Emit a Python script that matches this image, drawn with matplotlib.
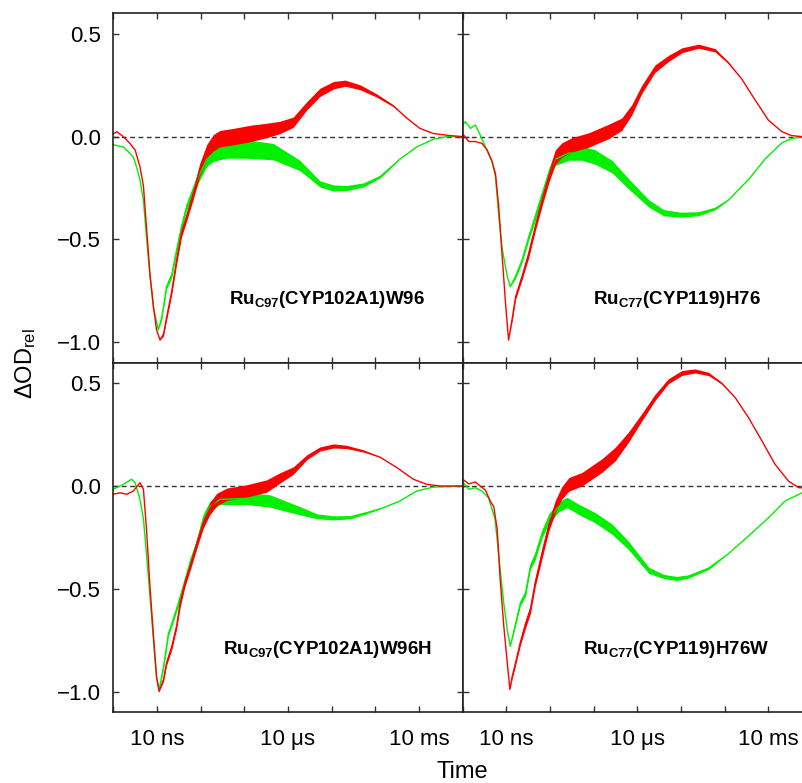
import numpy as np
import matplotlib
matplotlib.use("Agg")
import matplotlib.pyplot as plt
from matplotlib.ticker import FixedLocator, FixedFormatter, NullLocator

plt.rcParams['font.family'] = ['Liberation Sans', 'DejaVu Sans']
plt.rcParams['mathtext.fontset'] = 'custom'
plt.rcParams['mathtext.rm'] = 'Liberation Sans'
plt.rcParams['mathtext.bf'] = 'Liberation Sans:bold'
plt.rcParams['mathtext.it'] = 'Liberation Sans:italic'

# === Data (log10 of time in s, relative OD, half-width of the noise band) ===
# Panel A: Ru_C97(CYP102A1)W96
t_red_A = [-9.00, -8.92, -8.77, -8.62, -8.50, -8.39, -8.31, -8.24, -8.16, -8.08, -8.01, -7.93,
           -7.85, -7.78, -7.66, -7.55, -7.44, -7.32, -7.17, -7.02, -6.86, -6.71, -6.56, -6.25,
           -5.87, -5.49, -5.18, -4.88, -4.57, -4.27, -3.96, -3.69, -3.35, -2.97, -2.59, -2.28,
           -1.98, -1.67, -1.29, -1.00]
red_A = [0.013, 0.024, 0.0, -0.033, -0.065, -0.146, -0.24, -0.44, -0.67, -0.83, -0.94, -0.99,
         -0.96, -0.88, -0.75, -0.60, -0.47, -0.39, -0.28, -0.16, -0.073, -0.03, -0.01, 0.0,
         0.015, 0.03, 0.045, 0.07, 0.15, 0.215, 0.25, 0.26, 0.24, 0.20, 0.15, 0.09,
         0.04, 0.015, 0.005, 0.0]
red_noise_A = [0, 0, 0, 0, 0, 0, 0, 0, 0, 0, 0, 0,
               0.01, 0.012, 0.015, 0.02, 0.02, 0.02, 0.025, 0.03, 0.035, 0.04, 0.04, 0.04,
               0.04, 0.035, 0.03, 0.025, 0.02, 0.02, 0.018, 0.015, 0.012, 0.008, 0.004, 0,
               0, 0, 0, 0]
t_green_A = [-9.00, -8.77, -8.66, -8.54, -8.47, -8.39, -8.31, -8.24, -8.16, -8.08, -7.97, -7.89,
             -7.78, -7.66, -7.55, -7.44, -7.32, -7.17, -7.02, -6.86, -6.71, -6.40, -5.95, -5.34,
             -4.73, -4.27, -3.96, -3.66, -3.27, -2.89, -2.44, -2.05, -1.67, -1.37, -1.00]
green_A = [-0.04, -0.05, -0.073, -0.10, -0.146, -0.21, -0.31, -0.49, -0.68, -0.83, -0.94, -0.88,
           -0.73, -0.67, -0.55, -0.44, -0.34, -0.26, -0.18, -0.11, -0.08, -0.06, -0.06, -0.073,
           -0.14, -0.23, -0.25, -0.25, -0.235, -0.195, -0.11, -0.05, -0.013, 0.0, 0.0]
green_noise_A = [0, 0, 0, 0, 0, 0, 0, 0, 0, 0, 0, 0.01,
                 0.012, 0.015, 0.015, 0.02, 0.02, 0.025, 0.03, 0.035, 0.04, 0.045, 0.045, 0.04,
                 0.025, 0.015, 0.015, 0.012, 0.01, 0.006, 0, 0, 0, 0, 0]

# Panel B: Ru_C77(CYP119)H76
t_red_B = [-9.00, -8.98, -8.86, -8.71, -8.56, -8.44, -8.33, -8.25, -8.18, -8.10, -8.02, -7.95,
           -7.87, -7.79, -7.64, -7.49, -7.34, -7.18, -7.03, -6.88, -6.73, -6.50, -6.11, -5.66,
           -5.36, -5.13, -4.90, -4.60, -4.29, -3.98, -3.60, -3.22, -2.92, -2.61, -2.31, -2.00,
           -1.69, -1.47, -1.23, -1.00]
red_B = [0.0, 0.008, -0.024, -0.024, -0.033, -0.065, -0.12, -0.18, -0.33, -0.57, -0.81, -0.99,
         -0.89, -0.78, -0.68, -0.57, -0.44, -0.31, -0.195, -0.10, -0.065, -0.04, -0.016, 0.025,
         0.06, 0.13, 0.23, 0.33, 0.38, 0.42, 0.44, 0.42, 0.36, 0.28, 0.18, 0.08,
         0.024, 0.005, 0.0, 0.0]
red_noise_B = [0, 0, 0, 0, 0, 0, 0, 0, 0, 0, 0, 0,
               0.01, 0.012, 0.015, 0.02, 0.02, 0.025, 0.03, 0.035, 0.035, 0.035, 0.035, 0.035,
               0.03, 0.025, 0.02, 0.018, 0.015, 0.012, 0.01, 0.008, 0.004, 0, 0, 0,
               0, 0, 0, 0]
t_green_B = [-9.00, -8.94, -8.82, -8.71, -8.60, -8.48, -8.33, -8.25, -8.18, -8.10, -7.98, -7.91,
             -7.79, -7.64, -7.49, -7.34, -7.18, -7.03, -6.88, -6.57, -6.27, -5.96, -5.58, -5.20,
             -4.74, -4.40, -4.00, -3.60, -3.22, -2.92, -2.46, -2.08, -1.69, -1.47, -1.23, -1.00]
green_B = [0.057, 0.073, 0.04, 0.057, 0.008, -0.05, -0.12, -0.195, -0.37, -0.54, -0.68, -0.73,
           -0.68, -0.60, -0.49, -0.39, -0.28, -0.18, -0.11, -0.08, -0.08, -0.10, -0.146, -0.23,
           -0.325, -0.37, -0.38, -0.375, -0.35, -0.31, -0.21, -0.11, -0.03, -0.01, 0.0, 0.0]
green_noise_B = [0, 0, 0, 0, 0, 0, 0, 0, 0, 0, 0, 0,
                 0.01, 0.012, 0.015, 0.02, 0.02, 0.025, 0.03, 0.035, 0.035, 0.035, 0.03, 0.025,
                 0.018, 0.015, 0.012, 0.01, 0.006, 0, 0, 0, 0, 0, 0, 0]

# Panel C: Ru_C97(CYP102A1)W96H
t_red_C = [-9.00, -8.85, -8.69, -8.54, -8.39, -8.31, -8.24, -8.16, -8.08, -8.01, -7.95, -7.85,
           -7.78, -7.66, -7.55, -7.47, -7.36, -7.24, -7.09, -6.94, -6.79, -6.63, -6.40, -5.95,
           -5.49, -5.18, -4.88, -4.57, -4.27, -3.96, -3.66, -3.27, -2.89, -2.51, -2.13, -1.82,
           -1.52, -1.00]
red_C = [-0.04, -0.033, -0.04, -0.024, 0.016, -0.016, -0.21, -0.49, -0.73, -0.93, -1.00, -0.94,
         -0.86, -0.78, -0.68, -0.57, -0.47, -0.39, -0.28, -0.18, -0.11, -0.065, -0.04, -0.024,
         0.0, 0.04, 0.075, 0.14, 0.18, 0.195, 0.19, 0.17, 0.14, 0.09, 0.033, 0.008,
         0.0, 0.0]
red_noise_C = [0, 0, 0, 0, 0, 0, 0, 0, 0, 0, 0, 0.01,
               0.012, 0.015, 0.015, 0.02, 0.02, 0.02, 0.025, 0.025, 0.03, 0.03, 0.03, 0.03,
               0.03, 0.025, 0.018, 0.012, 0.01, 0.01, 0.008, 0.005, 0, 0, 0, 0,
               0, 0]
t_green_C = [-9.00, -8.77, -8.58, -8.50, -8.39, -8.31, -8.24, -8.16, -8.08, -8.01, -7.95, -7.85,
             -7.74, -7.63, -7.51, -7.40, -7.24, -7.09, -6.94, -6.79, -6.56, -5.95, -5.41, -4.73,
             -4.34, -3.96, -3.58, -3.20, -2.82, -2.44, -2.05, -1.67, -1.00]
green_C = [-0.016, 0.008, 0.033, 0.016, -0.065, -0.16, -0.33, -0.54, -0.75, -0.93, -0.99, -0.88,
           -0.72, -0.65, -0.57, -0.49, -0.37, -0.28, -0.16, -0.10, -0.065, -0.06, -0.073, -0.12,
           -0.147, -0.155, -0.152, -0.13, -0.106, -0.073, -0.024, -0.005, 0.0]
green_noise_C = [0, 0, 0, 0, 0, 0, 0, 0, 0, 0, 0, 0.01,
                 0.012, 0.012, 0.015, 0.015, 0.02, 0.02, 0.025, 0.025, 0.025, 0.03, 0.03, 0.02,
                 0.012, 0.01, 0.008, 0.005, 0, 0, 0, 0, 0]

# Panel D: Ru_C77(CYP119)H76W
t_red_D = [-9.00, -8.98, -8.86, -8.71, -8.60, -8.48, -8.37, -8.29, -8.21, -8.14, -8.06, -7.98,
           -7.92, -7.87, -7.79, -7.68, -7.56, -7.45, -7.34, -7.18, -7.03, -6.88, -6.73, -6.57,
           -6.27, -5.81, -5.51, -5.21, -4.90, -4.60, -4.29, -3.98, -3.68, -3.37, -3.07, -2.76,
           -2.46, -2.15, -1.85, -1.54, -1.31, -1.00]
red_D = [0.03, 0.03, 0.01, 0.02, 0.0, -0.02, -0.073, -0.10, -0.21, -0.46, -0.68, -0.86,
         -0.99, -0.93, -0.86, -0.76, -0.67, -0.60, -0.47, -0.325, -0.195, -0.10, -0.033, 0.008,
         0.033, 0.10, 0.155, 0.236, 0.334, 0.43, 0.51, 0.55, 0.56, 0.545, 0.50, 0.43,
         0.334, 0.22, 0.106, 0.024, -0.008, -0.01]
red_noise_D = [0, 0, 0, 0, 0, 0, 0, 0, 0, 0, 0, 0,
               0, 0.01, 0.012, 0.015, 0.02, 0.02, 0.02, 0.025, 0.025, 0.03, 0.03, 0.033,
               0.033, 0.033, 0.033, 0.025, 0.018, 0.015, 0.012, 0.012, 0.01, 0.008, 0.004, 0,
               0, 0, 0, 0, 0, 0]
t_green_D = [-9.00, -8.86, -8.71, -8.56, -8.41, -8.26, -8.14, -8.06, -7.98, -7.91, -7.79, -7.68,
             -7.56, -7.45, -7.34, -7.18, -7.03, -6.80, -6.61, -6.34, -5.96, -5.58, -5.20, -4.74,
             -4.40, -4.10, -3.83, -3.37, -2.92, -2.46, -2.00, -1.62, -1.23, -1.00]
green_D = [0.02, -0.016, -0.008, -0.024, -0.057, -0.16, -0.41, -0.57, -0.70, -0.78, -0.67, -0.57,
           -0.52, -0.39, -0.34, -0.23, -0.16, -0.10, -0.08, -0.114, -0.155, -0.21, -0.29, -0.41,
           -0.44, -0.45, -0.44, -0.40, -0.33, -0.244, -0.155, -0.073, -0.033, -0.02]
green_noise_D = [0, 0, 0, 0, 0, 0, 0, 0, 0, 0, 0.01, 0.012,
                 0.015, 0.015, 0.02, 0.02, 0.025, 0.025, 0.025, 0.025, 0.025, 0.025, 0.02, 0.015,
                 0.01, 0.01, 0.008, 0.006, 0, 0, 0, 0, 0, 0]

panel_labels = [r'$\mathbf{Ru_{C97}(CYP102A1)W96}$', r'$\mathbf{Ru_{C77}(CYP119)H76}$',
                r'$\mathbf{Ru_{C97}(CYP102A1)W96H}$', r'$\mathbf{Ru_{C77}(CYP119)H76W}$']
x_tick_exp = [-9, -8, -7, -6, -5, -4, -3, -2, -1]
x_tick_labels = ['', '10 ns', '', '', '10 μs', '', '', '10 ms', '']
y_ticks = [-1.0, -0.5, 0.0, 0.5]

RED = '#ff0000'
GREEN = '#00f000'

panels = [
    (t_red_A, red_A, red_noise_A, t_green_A, green_A, green_noise_A),
    (t_red_B, red_B, red_noise_B, t_green_B, green_B, green_noise_B),
    (t_red_C, red_C, red_noise_C, t_green_C, green_C, green_noise_C),
    (t_red_D, red_D, red_noise_D, t_green_D, green_D, green_noise_D),
]

# === Figure layout (right column runs past the canvas edge like the source) ===
fig = plt.figure(figsize=(8.02, 7.83), dpi=100)
W, H = 802.0, 783.0
side = 349.4
lefts = [113.3, 462.7]
tops = [13.3, 362.7]


def draw_trace(ax, t, v, w, color):
    t = 10.0 ** np.asarray(t)
    v = np.asarray(v)
    w = np.asarray(w)
    ax.fill_between(t, v - w, v + w, color=color, lw=0)
    ax.plot(t, v, color=color, lw=1.0)


for i, (tr, r, rn, tg, g, gn) in enumerate(panels):
    row, col = divmod(i, 2)
    ax = fig.add_axes([lefts[col] / W, 1 - (tops[row] + side) / H, side / W, side / H])
    ax.set_xscale('log')
    ax.set_xlim(1e-9, 1e-1)
    ax.set_ylim(-1.1, 0.6)

    ax.axhline(0, color='#333333', lw=1.0, ls=(0, (3.5, 2.5)), zorder=1)
    draw_trace(ax, tg, g, gn, GREEN)
    draw_trace(ax, tr, r, rn, RED)

    ax.xaxis.set_major_locator(FixedLocator([10.0 ** e for e in x_tick_exp]))
    ax.xaxis.set_major_formatter(FixedFormatter(x_tick_labels))
    ax.xaxis.set_minor_locator(NullLocator())
    ax.set_yticks(y_ticks)
    ax.set_yticklabels(['\u22121.0', '\u22120.5', '0.0', '0.5'])
    ax.tick_params(direction='in', length=4, width=1, color='#333333',
                   top=True, right=True, labelsize=16)
    ax.tick_params(axis='x', pad=12)
    ax.tick_params(axis='y', pad=9)
    if row == 0:
        ax.tick_params(labelbottom=False)
    if col == 1:
        ax.tick_params(labelleft=False)
    for sp in ax.spines.values():
        sp.set_linewidth(1.2)
        sp.set_color('#222222')

    ax.text(0.612, 0.18, panel_labels[i], transform=ax.transAxes,
            ha='center', va='center', fontsize=13.5)

fig.text(462 / W, 1 - 772 / H, 'Time', ha='center', va='center', fontsize=17)
fig.text(26 / W, 1 - 364 / H, r'ΔOD$_{\mathrm{rel}}$', ha='center', va='center',
         rotation=90, fontsize=17)

fig.savefig('out.png', dpi=100)
